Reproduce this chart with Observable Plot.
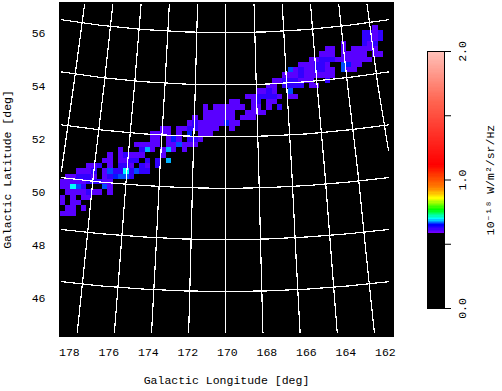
<!DOCTYPE html>
<html>
<head>
<meta charset="utf-8">
<script src="https://cdn.jsdelivr.net/npm/d3@7"></script>
<script src="https://cdn.jsdelivr.net/npm/@observablehq/plot@0.6"></script>
<style>
html,body{margin:0;padding:0;background:#fff;}
#chart{position:relative;width:502px;height:391px;overflow:hidden;}
#chart svg{position:absolute;left:0;top:0;background:transparent;}
</style>
</head>
<body>
<div id="chart"></div>
<script>
// Raster: first row, column of each row, and a level letter per cell ('.' = below threshold)
const firstRow = 4;
const rowStarts = [59,57,57,53,50,49,47,45,43,42,40,39,37,35,32,27,27,25,24,19,17,17,14,11,9,8,5,3,0,0,0,0,0,0,0,0];
const rowCells = [
 "a","bbab","bbab","a...bab","aa.a.aaaaa","aaa.aaaaa.aa","aabbbaaaaaaa","aaabba..dcaa",
 "dabaabbaa.daa","aaabaaaaaa","aabbbaaa..b","aa.bbbb.aa","aaba..d","aabbbba.aa","aa..ab.aa",
 "a.aaaaaa.aa.a.b","aaaaaa..aaaa","a.aaaaaa.aaa","abaaaaacaa","aa.aabbaaaa..a","aaaa.a.c.aaa",
 "aa.aca.bba","aaaaa.aadaaa","a...bea.aea.a","a.abaaa...a","aa.aabb.b.b.e","aab.a.bba.ba.b",
 "aaab.adbbfbdbb",".aabbba.abcddb","aaaaabbbaa","aafdb...da",".aaaabaa.a","a.a.aa","a.aa",".aa.a","aaa"
];
const levelNames = ["a","b","c","d","e","f"];
const levelValues = [0.595,0.615,0.645,0.655,0.675,0.69];

const lonStart = 178.465, lonBin = 0.2684, latStart = 57.11, latBin = 0.2008;

// Colour table of the wedge
const colorStops = [0,0.574,0.575,0.64,0.69,0.76,0.85,0.93,1.11,1.6,2];
const colorRamp = ["#000000","#000000","#8000ff","#0000ff","#00ffff","#00ff00","#ffff00","#ff8000","#ff0000","#ff6450","#ffc4bc"];
const wedgeSteps = d3.range(0,2,0.01);

// Graticule
const lonTicks = [178,176,174,172,170,168,166,164,162];
const latTicks = [46,48,50,52,54,56];
const meridianLats = [57.09,54.06,50.80,47.77,44.70];
const meridianLons = [
 [170.08,170.08,170.08,170.08,170.08],
 [168.65,168.54,168.41,168.31,168.20],
 [171.51,171.62,171.75,171.85,171.96],
 [167.22,167.00,166.74,166.54,166.32],
 [172.94,173.16,173.42,173.62,173.84],
 [165.79,165.46,165.07,164.76,164.44],
 [174.37,174.70,175.09,175.40,175.72],
 [164.36,163.92,163.40,162.99,162.56],
 [175.80,176.24,176.76,177.17,177.60],
 [177.23,177.775,178.40]
];
const rightEdgeLons = [162.93,162.385,161.84];
const rightEdgeLats = [57.09,54.06,51.56];
const parallelLons = [178.40,176.42,174.25,172.17,170.09,168.01,165.94,163.86,161.83];
const parallelLats = [
 [56.51,56.30,56.14,56.05,56.02,56.05,56.14,56.30,56.51],
 [54.54,54.33,54.17,54.08,54.05,54.08,54.17,54.33,54.54],
 [52.54,52.35,52.20,52.12,52.09,52.12,52.20,52.35,52.54],
 [50.55,50.38,50.25,50.17,50.14,50.17,50.25,50.38,50.55],
 [48.59,48.43,48.31,48.23,48.21,48.23,48.31,48.43,48.59],
 [46.62,46.46,46.34,46.27,46.25,46.27,46.34,46.46,46.62]
];

const cells = [];
rowCells.forEach((s,i)=>{
  [...s].forEach((ch,j)=>{
    if (ch===".") return;
    const r = firstRow+i, c = rowStarts[i]+j;
    cells.push({
      x1: lonStart-lonBin*c, x2: lonStart-lonBin*(c+1),
      y1: latStart-latBin*r, y2: latStart-latBin*(r+1),
      v: levelValues[levelNames.indexOf(ch)]
    });
  });
});
const gridLines = [];
meridianLons.forEach((lons,i)=>{
  lons.forEach((lon,j)=>gridLines.push({lon,lat:meridianLats[j],id:"m"+i}));
});
rightEdgeLons.forEach((lon,j)=>gridLines.push({lon,lat:rightEdgeLats[j],id:"mr"}));
parallelLats.forEach((lats,i)=>{
  lats.forEach((lat,j)=>gridLines.push({lon:parallelLons[j],lat,id:"p"+i}));
});

const FONT = "'Liberation Mono','DejaVu Sans Mono',monospace";
const colorOpt = {type:"linear",domain:colorStops,range:colorRamp,interpolate:"rgb",clamp:true};

const map = Plot.plot({
  width:502,height:391,
  marginLeft:59,marginRight:109,marginTop:2,marginBottom:55,
  style:{fontFamily:FONT,fontSize:"11.5px",color:"#000",background:"transparent"},
  x:{domain:[178.5,161.59]},
  y:{domain:[44.55,57.16]},
  color:colorOpt,
  marks:[
    Plot.frame({fill:"#000",stroke:"#000"}),
    Plot.rect(cells,{x1:"x1",x2:"x2",y1:"y1",y2:"y2",fill:"v",shapeRendering:"crispEdges"}),
    Plot.line(gridLines,{x:"lon",y:"lat",z:"id",stroke:"#fff",strokeWidth:1.2,shapeRendering:"crispEdges"}),
    Plot.axisX({ticks:lonTicks,tickSize:0,tickPadding:11,tickFormat:d=>String(d),
      label:"Galactic Longitude [deg]",labelAnchor:"center",labelArrow:"none",labelOffset:47}),
    Plot.axisY({ticks:latTicks,tickSize:0,tickPadding:14,tickFormat:d=>String(d),
      label:"Galactic Latitude [deg]",labelAnchor:"center",labelArrow:"none",labelOffset:57})
  ]
});

const bar = Plot.plot({
  width:502,height:391,
  marginLeft:427,marginRight:58,marginTop:51,marginBottom:83,
  style:{fontFamily:FONT,fontSize:"11.5px",color:"#000",background:"transparent"},
  x:{domain:[0,1],axis:null},
  y:{domain:[0,2]},
  color:colorOpt,
  marks:[
    Plot.rect(wedgeSteps,{x1:0,x2:1,y1:d=>d,y2:d=>d+0.01,fill:d=>d,shapeRendering:"crispEdges"}),
    Plot.frame({stroke:"#000"}),
    Plot.axisY({anchor:"right",ticks:[0,0.5,1,1.5,2],tickSize:6,tickPadding:15,tickRotate:-90,
      tickFormat:d=>Number.isInteger(d)?d.toFixed(1):"",
      label:"10⁻¹⁸ W/m²/sr/Hz",labelAnchor:"center",labelArrow:"none",labelOffset:49})
  ]
});

const holder = document.getElementById("chart");
holder.appendChild(map);
holder.appendChild(bar);
</script>
</body>
</html>
